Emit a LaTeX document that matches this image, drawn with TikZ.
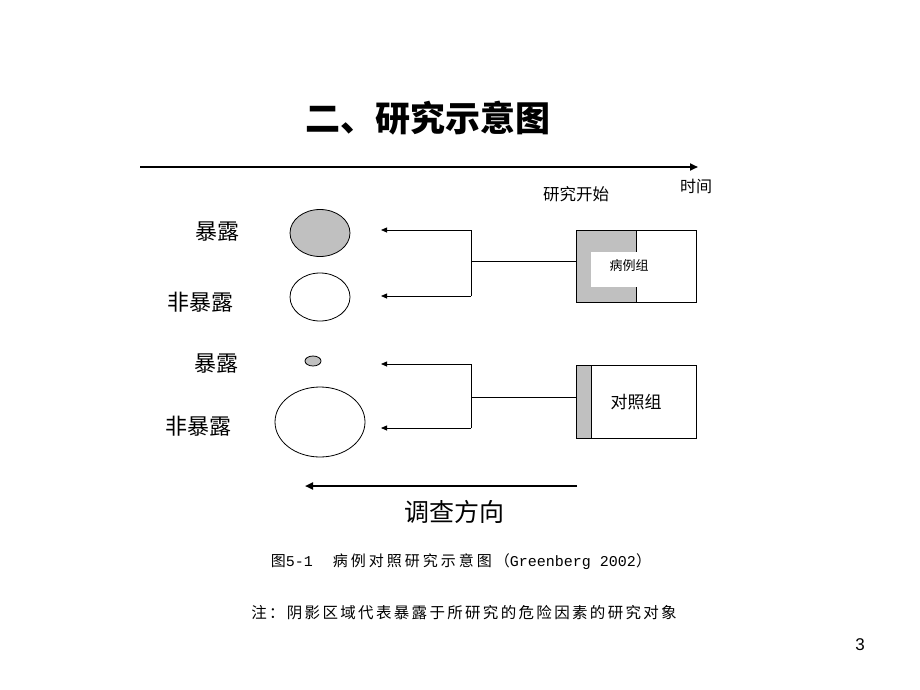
\documentclass[tikz,border=0pt]{standalone}
\usepackage{fontspec}
\setmainfont{Noto Sans CJK SC}
\newfontfamily\latinsans{Liberation Sans}
\newfontfamily\capmono{Liberation Mono}
\usetikzlibrary{arrows.meta,shapes.geometric}
\newcommand\fsz[1]{\fontsize{#1}{#1}\selectfont}
\definecolor{shadegray}{RGB}{192,192,192}
\begin{document}
\begin{tikzpicture}[x=1pt,y=-1pt,
  thin line/.style={line width=0.8pt},
  thickarrow/.style={line width=2pt,-{Triangle[length=8pt,width=7pt]}},
  conarrow/.style={line width=0.8pt,-{Triangle[length=6pt,width=5pt]}},
  ell/.style={ellipse,draw,line width=0.8pt,inner sep=0pt},
  lbl/.style={inner sep=0pt,font=\fsz{16}},
  side/.style={inner sep=0pt,anchor=east,font=\fsz{22}},
  boxn/.style={draw,line width=0.8pt,minimum width=120pt,minimum height=72pt,inner sep=0pt}]
\useasboundingbox (0,0) rectangle (920,690);
\fill[white] (0,0) rectangle (920,690);
% title
\node[inner sep=0pt,font=\fsz{35}\bfseries] (title) at (428,118) {二、研究示意图};
% time axis
\coordinate (tstart) at (140,167);
\coordinate (tend) at (698,167);
\draw[thickarrow] (tstart) -- (tend);
\node[lbl] (time) at (696,186) {时间};
\node[lbl,font=\fsz{16.5}] (start) at (576,194) {研究开始};
% case box
\fill[shadegray] (576,230.5) rectangle (636,302.5);
\fill[white] (591,252) rectangle (636,287);
\draw[thin line] (636,230.5) -- (636,252) (636,287) -- (636,302.5);
\node[boxn] (case) at (636,266.5) {};
\node[inner sep=0pt,font=\fsz{13}] (caselbl) at (629,266) {病例组};
% control box
\fill[shadegray] (576,365.5) rectangle (591,438);
\draw[thin line] (591,365.5) -- (591,438);
\node[boxn,minimum height=72.5pt] (ctrl) at (636,401.75) {};
\node[inner sep=0pt,font=\fsz{17}] (ctrllbl) at (636,402) {对照组};
% ellipses
\node[ell,fill=shadegray,minimum width=60pt,minimum height=47pt] (e1) at (320,233) {};
\node[ell,minimum width=60pt,minimum height=48pt] (e2) at (320,297) {};
\node[ell,fill=shadegray,minimum width=16pt,minimum height=10pt] (e3) at (313,361) {};
\node[ell,minimum width=90pt,minimum height=70pt] (e4) at (320,422) {};
% side labels
\node[side] (l1) at (240,232) {暴露};
\node[side] (l2) at (234,302) {非暴露};
\node[side] (l3) at (239,364) {暴露};
\node[side] (l4) at (232,426) {非暴露};
% upper connectors
\coordinate (j1) at (471,261);
\coordinate (j1a) at (471,230);
\coordinate (j1b) at (471,296);
\coordinate (a1) at (381,230);
\coordinate (a2) at (381,296);
\draw[thin line] (j1 -| case.west) -- (j1);
\draw[thin line] (j1a) -- (j1b);
\draw[conarrow] (j1a) -- (a1);
\draw[conarrow] (j1b) -- (a2);
% lower connectors
\coordinate (j2) at (471,397);
\coordinate (j2a) at (471,364);
\coordinate (j2b) at (471,428);
\coordinate (a3) at (381,364);
\coordinate (a4) at (381,428);
\draw[thin line] (j2 -| ctrl.west) -- (j2);
\draw[thin line] (j2a) -- (j2b);
\draw[conarrow] (j2a) -- (a3);
\draw[conarrow] (j2b) -- (a4);
% survey direction
\coordinate (sstart) at (577,486);
\coordinate (send) at (305,486);
\draw[thickarrow] (sstart) -- (send);
\node[inner sep=0pt,font=\fsz{25}] (dir) at (454,512) {调查方向};
% caption and note
\node[inner sep=0pt,font=\fsz{15}\addfontfeature{LetterSpace=20}] (cap) at (461,562) {图{\capmono\fsz{15}5-1}\hspace{20pt}病例对照研究示意图（{\capmono\fsz{15}Greenberg 2002}）};
\node[inner sep=0pt,font=\fsz{15.5}\addfontfeature{LetterSpace=15}] (note) at (464,613) {注：阴影区域代表暴露于所研究的危险因素的研究对象};
% page number
\node[inner sep=0pt,font=\latinsans\fsz{17}] (page) at (860,645) {3};
\end{tikzpicture}
\end{document}
